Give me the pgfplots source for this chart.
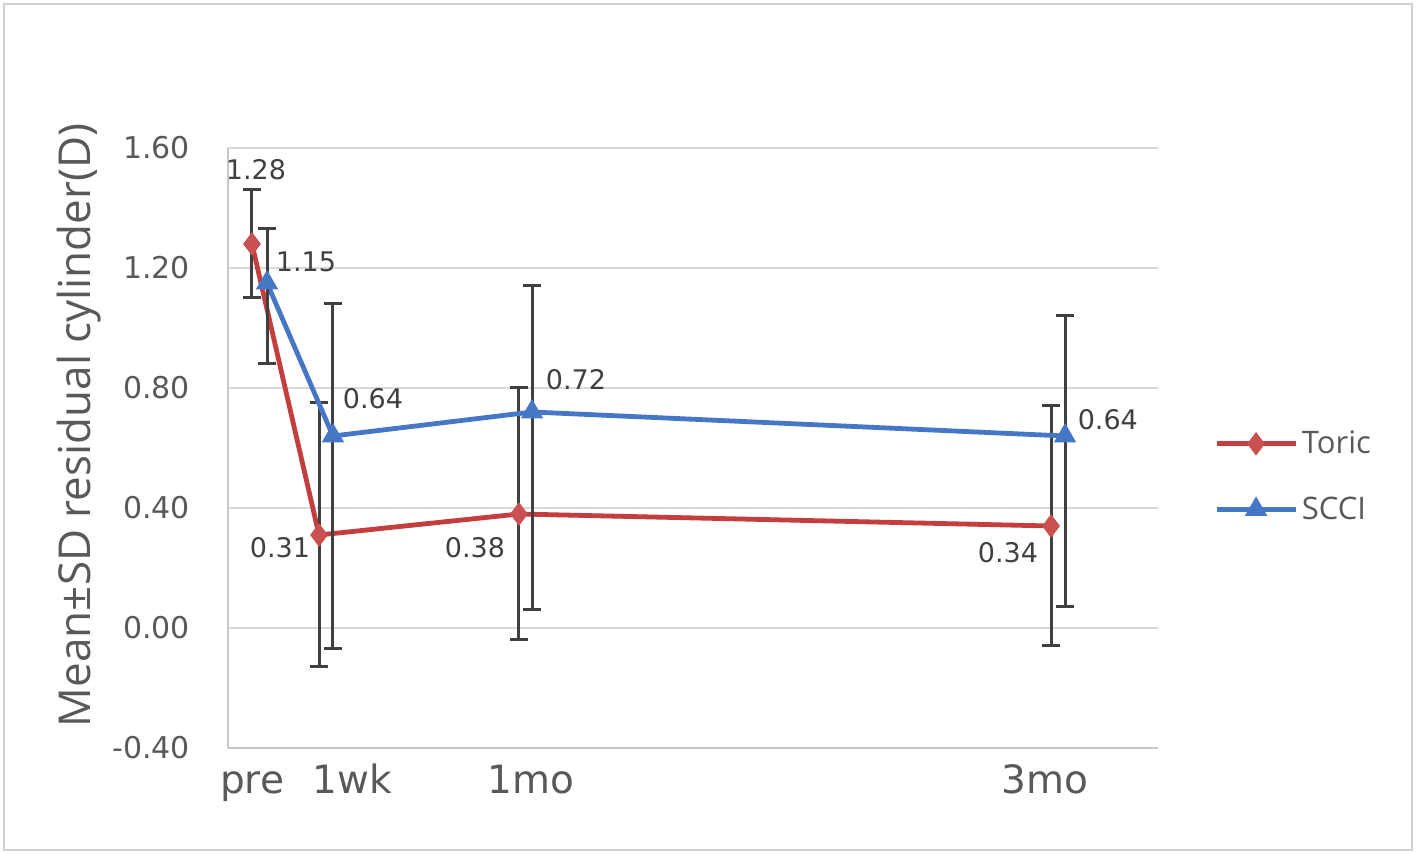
\documentclass[border=0pt]{standalone}
\usepackage{pgfplots}
\pgfplotsset{compat=1.18}
\usepackage{fontspec}
\setmainfont{DejaVu Sans}
\newfontfamily\labelfont{Open Sans}

\definecolor{toric}{HTML}{C43E3E}
\definecolor{scci}{HTML}{4677C6}
\definecolor{errc}{HTML}{404040}
\definecolor{gridc}{HTML}{D9D9D9}
\definecolor{txt}{HTML}{595959}

\begin{document}
\begin{tikzpicture}
\useasboundingbox (-114pt,-54pt) rectangle (594.5pt,374pt);
\draw[gridc!90!gray, line width=0.8pt] (-112pt,-51pt) rectangle (592pt,372pt);
\begin{axis}[
  scale only axis,
  width=465pt, height=300pt,
  xmin=-2.703, xmax=102.05,
  ymin=-0.4, ymax=1.6,
  ytick={-0.4,0,0.4,0.8,1.2,1.6},
  xtick={0,11.26,31.43,89.32},
  xticklabels={pre,1wk,1mo,3mo},
  axis x line*=bottom, axis y line*=left,
  axis line style={gridc!80!gray, line width=1pt, -},
  ymajorgrids, grid style={gridc, line width=1pt},
  major tick length=0pt,
  tick style={draw=none},
  yticklabel style={/pgf/number format/.cd, fixed, fixed zerofill, precision=2, assume math mode=true, /tikz/.cd,
    font=\fontsize{15}{17}\selectfont, text=txt, anchor=east, xshift=-15.5pt},
  xticklabel style={font=\fontsize{19.5}{22}\selectfont, text=txt, anchor=north,
    text height=14.2pt, text depth=4.5pt, yshift=-5pt},
  ylabel={Mean±SD residual cylinder(D)},
  every axis y label/.style={at={(axis description cs:-0.160,0.538)}, rotate=90, anchor=center,
    font=\labelfont\fontsize{22}{26}\selectfont, text=txt},
  legend style={at={(1.0535,0.4525)}, anchor=west, draw=none, fill=none,
    font=\labelfont\fontsize{15.5}{18}\selectfont, text=txt, row sep=16pt},
  legend cell align=left,
  legend image code/.code={\draw[mark repeat=2,mark phase=2] plot coordinates {(0pt,0pt) (19.75pt,0pt) (39.5pt,0pt)};},
  error bars/error bar style={errc, line width=1.5pt},
  error bars/error mark options={errc, line width=1.5pt, rotate=90, mark size=4.7pt},
]
\addplot[toric, line width=2.4pt, mark=diamond*, mark size=5.5pt, mark options={fill=toric!90!white, draw=toric!90!white, line width=0.5pt},
  error bars/.cd, y dir=both, y explicit]
  coordinates {
    (0,1.28) +- (0,0.18)
    (7.55,0.31) +- (0,0.44)
    (30.07,0.38) +- (0,0.42)
    (90,0.34) +- (0,0.40)
  };
\addlegendentry{Toric}
\addplot[scci, line width=2.4pt, mark=triangle*, mark size=6pt, mark options={fill=scci, draw=scci, line width=0.5pt},
  error bars/.cd, y dir=both, y explicit]
  coordinates {
    (1.69,1.15) += (0,0.18) -= (0,0.27)
    (9.12,0.64) += (0,0.44) -= (0,0.71)
    (31.54,0.72) += (0,0.42) -= (0,0.66)
    (91.58,0.64) += (0,0.40) -= (0,0.57)
  };
\addlegendentry{SCCI}
% data labels
\begin{scope}[every node/.style={font=\fontsize{13.5}{15}\selectfont, text=errc, anchor=center}]
\node at (axis cs:0.45,1.527) {1.28};
\node at (axis cs:6.08,1.220) {1.15};
\node at (axis cs:13.63,0.763) {0.64};
\node at (axis cs:3.15,0.267) {0.31};
\node at (axis cs:25.12,0.267) {0.38};
\node at (axis cs:36.49,0.827) {0.72};
\node at (axis cs:85.15,0.250) {0.34};
\node at (axis cs:96.4,0.693) {0.64};
\end{scope}
\end{axis}
\end{tikzpicture}
\end{document}
